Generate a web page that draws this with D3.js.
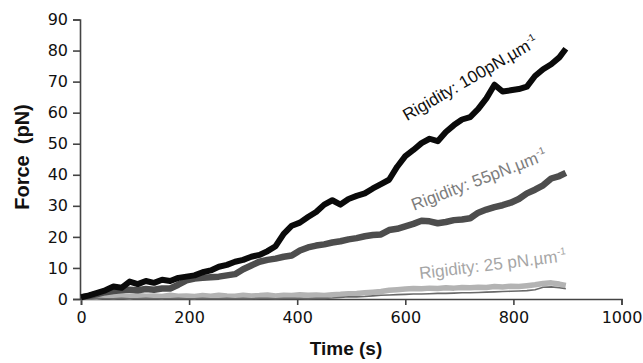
<!DOCTYPE html>
<html>
<head>
<meta charset="utf-8">
<script src="https://cdn.jsdelivr.net/npm/d3@7"></script>
<style>
  html, body { margin: 0; padding: 0; background: #fff; }
  svg { display: block; }
</style>
</head>
<body>
<svg id="chart" width="643" height="363"></svg>
<script>
// ---- data ----
const times = [0,15,30,45,60,75,90,105,120,135,150,165,180,195,210,225,240,255,270,285,
  300,315,330,345,360,375,390,405,420,435,450,465,480,495,510,525,540,555,570,585,
  600,615,630,645,660,675,690,705,720,735,750,765,780,795,810,825,840,855,870,885,897];

const rigidity100 = [0.5,1.2,2.0,2.8,4.0,3.6,5.6,4.8,5.8,5.2,6.2,5.8,6.8,7.2,7.6,8.6,9.2,10.4,11.0,12.0,
  12.6,13.6,14.2,15.4,17.0,21.0,23.6,24.6,26.4,28.0,30.4,31.8,30.4,32.2,33.2,34.0,35.6,37.0,38.4,42.6,
  46.0,48.0,50.2,51.6,50.8,53.8,56.0,57.8,58.6,61.2,64.6,69.0,66.8,67.2,67.6,68.4,71.8,74.0,75.6,77.8,80.6];

const rigidity55 = [0.6,1.0,1.6,2.2,2.6,2.8,3.0,2.8,3.2,3.0,3.4,3.4,4.6,6.0,6.6,6.8,7.0,7.2,7.6,8.0,
  9.6,10.8,12.0,12.6,13.0,13.6,14.0,15.6,16.6,17.2,17.6,18.2,18.6,19.2,19.6,20.2,20.6,20.8,22.2,22.6,
  23.4,24.2,25.2,25.0,24.4,24.8,25.4,25.6,26.0,27.8,28.8,29.6,30.2,31.0,32.2,34.0,35.2,36.6,38.8,39.6,40.6];

const rigidity25 = [0.4,0.8,0.6,1.0,0.8,1.0,0.7,1.1,0.9,1.0,0.8,1.2,0.9,1.0,0.8,1.1,0.9,1.2,1.0,0.9,
  1.2,1.0,1.1,1.3,1.0,1.2,1.1,1.4,1.2,1.3,1.1,1.4,1.5,1.7,1.8,2.0,2.2,2.4,2.8,3.0,
  3.2,3.4,3.3,3.5,3.4,3.6,3.5,3.7,3.6,3.8,3.7,4.0,3.9,4.1,4.0,4.3,4.6,5.0,5.2,4.8,4.4];

const rigidity25Trace = [0.1,0.1,0.2,0.1,0.1,0.2,0.1,0.1,0.2,0.1,0.1,0.1,0.2,0.1,0.1,0.2,0.1,0.1,0.2,0.1,
  0.2,0.1,0.2,0.2,0.1,0.2,0.2,0.2,0.1,0.2,0.2,0.3,0.5,0.7,0.7,0.8,1.0,1.2,1.3,1.4,
  1.5,1.6,1.6,1.7,1.8,1.8,1.9,2.0,2.0,2.1,2.2,2.3,2.4,2.5,2.6,2.7,3.0,3.8,3.9,3.6,3.3];

const xTicks = [0,200,400,600,800,1000];
const yTicks = [0,10,20,30,40,50,60,70,80,90];

const labels = [
  {main: "Rigidity: 100pN.µm", sup: "-1", t: 603, f: 57.2, angle: -30, color: "#111111"},
  {main: "Rigidity: 55pN.µm", sup: "-1", t: 616, f: 28.4, angle: -21, color: "#7d7d7d"},
  {main: "Rigidity: 25 pN.µm", sup: "-1", t: 627, f: 6.4, angle: -7, color: "#a6a6a6"}
];

// ---- chart ----
const svg = d3.select("#chart");
const x = d3.scaleLinear().domain([0, 1000]).range([81, 621.5]);
const y = d3.scaleLinear().domain([0, 90]).range([299, 19.5]);

const axisColor = "#444";

// x axis
const gx = svg.append("g").attr("transform", `translate(0,${y(0)})`)
  .call(d3.axisBottom(x).tickValues(xTicks).tickSize(6).tickPadding(7).tickFormat(d3.format("d")));
// y axis
const gy = svg.append("g").attr("transform", `translate(${x(0) - 1},0)`)
  .call(d3.axisLeft(y).tickValues(yTicks).tickSize(7).tickPadding(5).tickFormat(d3.format("d")));

[gx, gy].forEach(g => {
  g.select(".domain").attr("stroke", axisColor).attr("stroke-width", 1.6);
  g.selectAll(".tick line").attr("stroke", axisColor).attr("stroke-width", 1.6);
  g.selectAll(".tick text").attr("fill", "#111").style("font-family", "'DejaVu Sans', Verdana, sans-serif").style("font-size", "16px");
});

// series
const line = (vals) => d3.line().x((d, i) => x(times[i])).y(d => y(d))(vals);

svg.append("path").attr("d", line(rigidity25)).attr("fill", "none")
  .attr("stroke", "#b3b3b3").attr("stroke-width", 5.5).attr("stroke-linejoin", "round");
svg.append("path").attr("d", line(rigidity25Trace)).attr("fill", "none")
  .attr("stroke", "#6a6a6a").attr("stroke-width", 1.6).attr("stroke-linejoin", "round");
svg.append("path").attr("d", line(rigidity55)).attr("fill", "none")
  .attr("stroke", "#4d4d4d").attr("stroke-width", 6.5).attr("stroke-linejoin", "round");
svg.append("path").attr("d", line(rigidity100)).attr("fill", "none")
  .attr("stroke", "#0a0a0a").attr("stroke-width", 6).attr("stroke-linejoin", "round");

// labels
labels.forEach(l => {
  const t = svg.append("text")
    .attr("transform", `translate(${x(l.t)},${y(l.f)}) rotate(${l.angle})`)
    .attr("fill", l.color)
    .style("font-family", "'Liberation Sans', Arial, sans-serif")
    .style("font-size", "17px");
  t.append("tspan").text(l.main);
  t.append("tspan").attr("dy", -7).style("font-size", "10px").text(l.sup);
});

// axis titles
svg.append("text")
  .attr("x", 346).attr("y", 355).attr("text-anchor", "middle")
  .style("font-family", "'Liberation Sans', Arial, sans-serif").style("font-weight", "bold").style("font-size", "19px")
  .attr("fill", "#111").text("Time (s)");

svg.append("text")
  .attr("transform", "translate(29,157) rotate(-90)").attr("text-anchor", "middle")
  .style("font-family", "'Liberation Sans', Arial, sans-serif").style("font-weight", "bold").style("font-size", "20px")
  .attr("fill", "#111").attr("xml:space", "preserve").text("Force  (pN)");
</script>
</body>
</html>
